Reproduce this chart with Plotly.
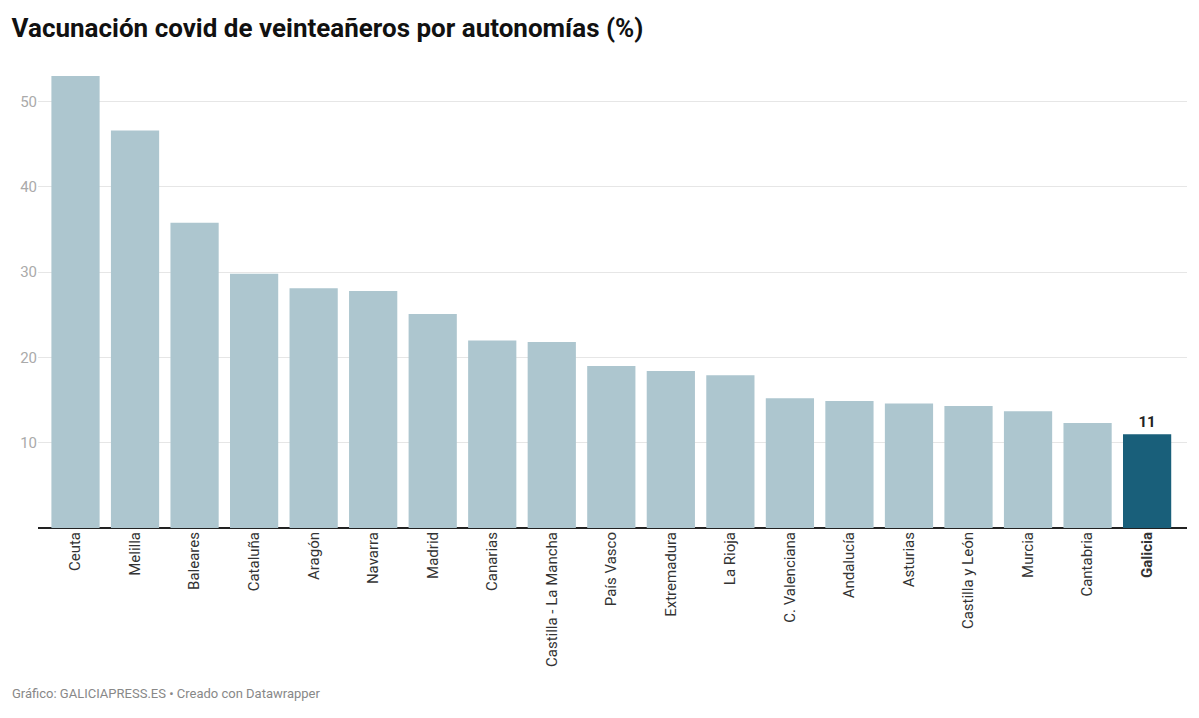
import plotly.graph_objects as go

# Data
regiones = ["Ceuta", "Melilla", "Baleares", "Cataluña", "Aragón", "Navarra", "Madrid",
            "Canarias", "Castilla - La Mancha", "País Vasco", "Extremadura", "La Rioja",
            "C. Valenciana", "Andalucía", "Asturias", "Castilla y León", "Murcia",
            "Cantabria", "Galicia"]
vacunacion = [53.0, 46.6, 35.8, 29.8, 28.1, 27.8, 25.1, 22.0, 21.8, 19.0, 18.4, 17.9,
              15.2, 14.9, 14.6, 14.3, 13.7, 12.3, 11.0]
destacada = "Galicia"

colores = ["#195f7a" if r == destacada else "#adc6cf" for r in regiones]
textos = ["<b>11</b>" if r == destacada else "" for r in regiones]
etiquetas = ["<b>%s</b>" % r if r == destacada else r for r in regiones]

fig = go.Figure()
fig.add_trace(go.Bar(
    x=regiones, y=vacunacion,
    marker=dict(color=colores, line=dict(width=0)),
    text=textos, textposition="outside", cliponaxis=False,
    textfont=dict(family="Roboto", size=15, color="#222222"),
    hoverinfo="x+y",
))

fig.update_layout(
    width=1199, height=718,
    margin=dict(l=27, r=20, t=68, b=198),
    paper_bgcolor="white", plot_bgcolor="white",
    bargap=0.19,
    showlegend=False,
    font=dict(family="Roboto", color="#333333"),
    title=dict(text="<b>Vacunación covid de veinteañeros por autonomías (%)</b>",
               x=0.003, xanchor="left", y=0.972, yanchor="middle",
               font=dict(family="Roboto", size=26, color="#111111")),
)

fig.update_xaxes(
    range=[-0.63, 18.67],
    tickmode="array", tickvals=regiones, ticktext=etiquetas,
    tickangle=-90, tickfont=dict(family="Roboto", size=15, color="#333333"),
    showgrid=False, showline=False, ticks="", zeroline=False,
)
fig.update_yaxes(
    range=[0, 53], tickvals=[10, 20, 30, 40, 50],
    tickfont=dict(family="Roboto", size=15, color="#aaaaaa"),
    showgrid=True, gridcolor="#e6e6e6", gridwidth=1,
    zeroline=True, zerolinecolor="#222222", zerolinewidth=1.5,
    showline=False, ticks="",
)

fig.add_annotation(
    text="Gráfico: GALICIAPRESS.ES • Creado con Datawrapper",
    xref="paper", yref="paper", x=-0.0245, y=-0.367,
    xanchor="left", yanchor="middle", showarrow=False,
    font=dict(family="Roboto", size=13, color="#888888"),
)

fig.write_html("out.html")
